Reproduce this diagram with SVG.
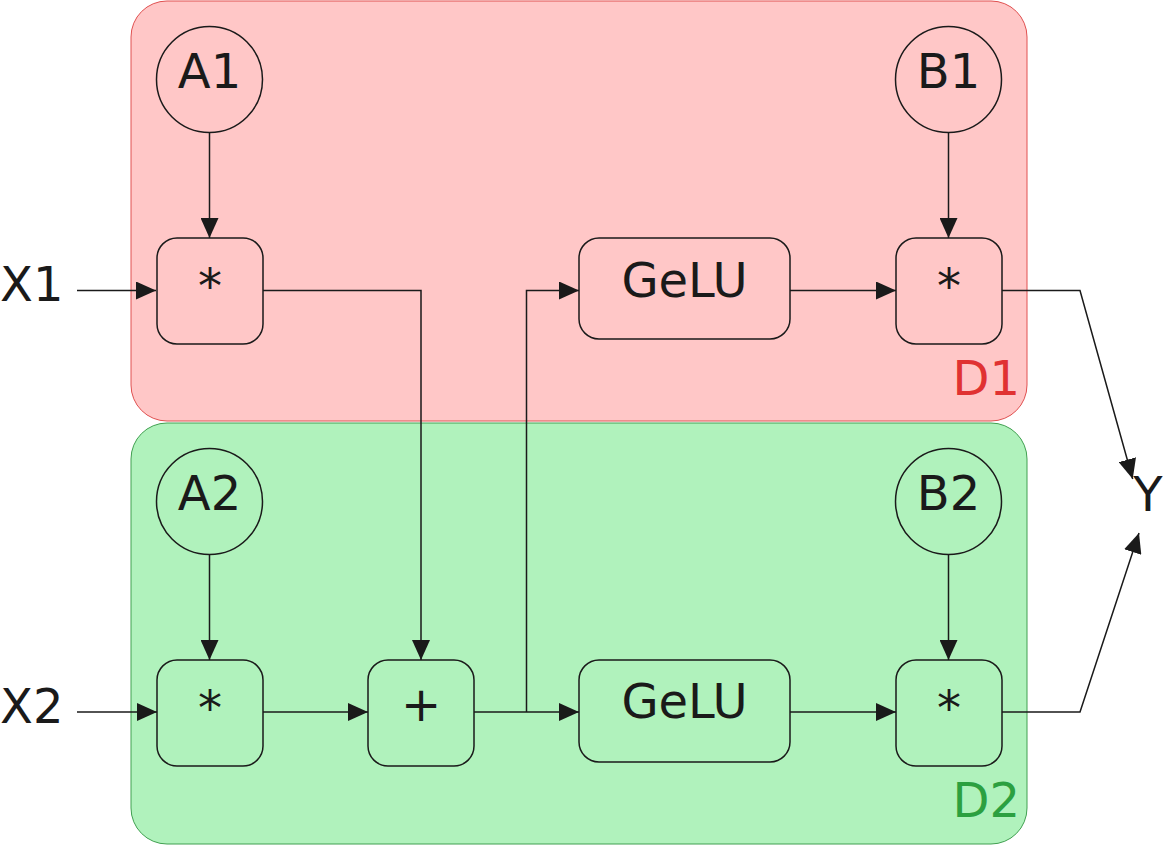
<svg xmlns="http://www.w3.org/2000/svg" width="1163" height="846" viewBox="0 0 1163 846">
<defs>
<style>
.lbl{font-family:"DejaVu Sans","Liberation Sans",sans-serif;font-size:48px;fill:#1a1a1a;text-anchor:middle}
.lft{text-anchor:start}
.node{fill:none;stroke:#1a1a1a;stroke-width:1.5}
.edge{fill:none;stroke:#1a1a1a;stroke-width:1.5}
</style>
<marker id="ah" markerUnits="userSpaceOnUse" markerWidth="20" markerHeight="18" refX="20" refY="9" orient="auto">
<path d="M0,0 L20,9 L0,18 z" fill="#1a1a1a"/>
</marker>
</defs>
<g id="D1">
<rect x="131" y="1" width="896" height="420" rx="36" fill="#ffc7c7" stroke="#e05050" stroke-width="1"/>
<text x="1020" y="395" font-family="DejaVu Sans,Liberation Sans,sans-serif" font-size="48" fill="#e03232" text-anchor="end">D1</text>
</g>
<g id="D2">
<rect x="131" y="423" width="896" height="421" rx="36" fill="#b0f2bc" stroke="#40a050" stroke-width="1"/>
<text x="1020" y="817" font-family="DejaVu Sans,Liberation Sans,sans-serif" font-size="48" fill="#2ca040" text-anchor="end">D2</text>
</g>
<g id="connectors">
<path class="edge" d="M77,290.5 H156" marker-end="url(#ah)"/>
<path class="edge" d="M209.5,132.5 V238" marker-end="url(#ah)"/>
<path class="edge" d="M263,290.5 H421 V660" marker-end="url(#ah)"/>
<path class="edge" d="M474,712 H579" marker-end="url(#ah)"/>
<path class="edge" d="M526.5,712 V290.5 H579" marker-end="url(#ah)"/>
<path class="edge" d="M790,290.5 H896" marker-end="url(#ah)"/>
<path class="edge" d="M948.5,132.5 V238" marker-end="url(#ah)"/>
<path class="edge" d="M1002,290.5 H1080 L1132.7,479" marker-end="url(#ah)"/>
<path class="edge" d="M77,712 H157" marker-end="url(#ah)"/>
<path class="edge" d="M209.5,555 V660" marker-end="url(#ah)"/>
<path class="edge" d="M263,712 H368" marker-end="url(#ah)"/>
<path class="edge" d="M790,712 H896" marker-end="url(#ah)"/>
<path class="edge" d="M948.5,555 V660" marker-end="url(#ah)"/>
<path class="edge" d="M1002,712 H1080 L1139,533" marker-end="url(#ah)"/>
</g>
<g id="X1"><text class="lbl lft" x="0" y="301">X1</text></g>
<g id="X2"><text class="lbl lft" x="0" y="723">X2</text></g>
<g id="Y"><text class="lbl" x="1148" y="511">Y</text></g>
<g id="A1"><circle class="node" cx="209.5" cy="79.5" r="53"/><text class="lbl" x="209.5" y="88">A1</text></g>
<g id="B1"><circle class="node" cx="948.5" cy="79.5" r="53"/><text class="lbl" x="948.5" y="88">B1</text></g>
<g id="A2"><circle class="node" cx="209.5" cy="501.5" r="53"/><text class="lbl" x="209.5" y="510">A2</text></g>
<g id="B2"><circle class="node" cx="948.5" cy="501.5" r="53"/><text class="lbl" x="948.5" y="510">B2</text></g>
<g id="mul1"><rect class="node" x="157" y="238" width="106" height="106" rx="20"/><text class="lbl" x="210" y="303">*</text></g>
<g id="gelu1"><rect class="node" x="579" y="238" width="211" height="101" rx="20"/><text class="lbl" x="684.5" y="297">GeLU</text></g>
<g id="mul3"><rect class="node" x="896" y="238" width="106" height="106" rx="20"/><text class="lbl" x="949" y="303">*</text></g>
<g id="mul2"><rect class="node" x="157" y="660" width="106" height="106" rx="20"/><text class="lbl" x="210" y="725">*</text></g>
<g id="add"><rect class="node" x="368" y="660" width="106" height="106" rx="20"/><text class="lbl" x="421" y="721">+</text></g>
<g id="gelu2"><rect class="node" x="579" y="660" width="211" height="102" rx="20"/><text class="lbl" x="684.5" y="718">GeLU</text></g>
<g id="mul4"><rect class="node" x="896" y="660" width="106" height="106" rx="20"/><text class="lbl" x="949" y="725">*</text></g>
</svg>
